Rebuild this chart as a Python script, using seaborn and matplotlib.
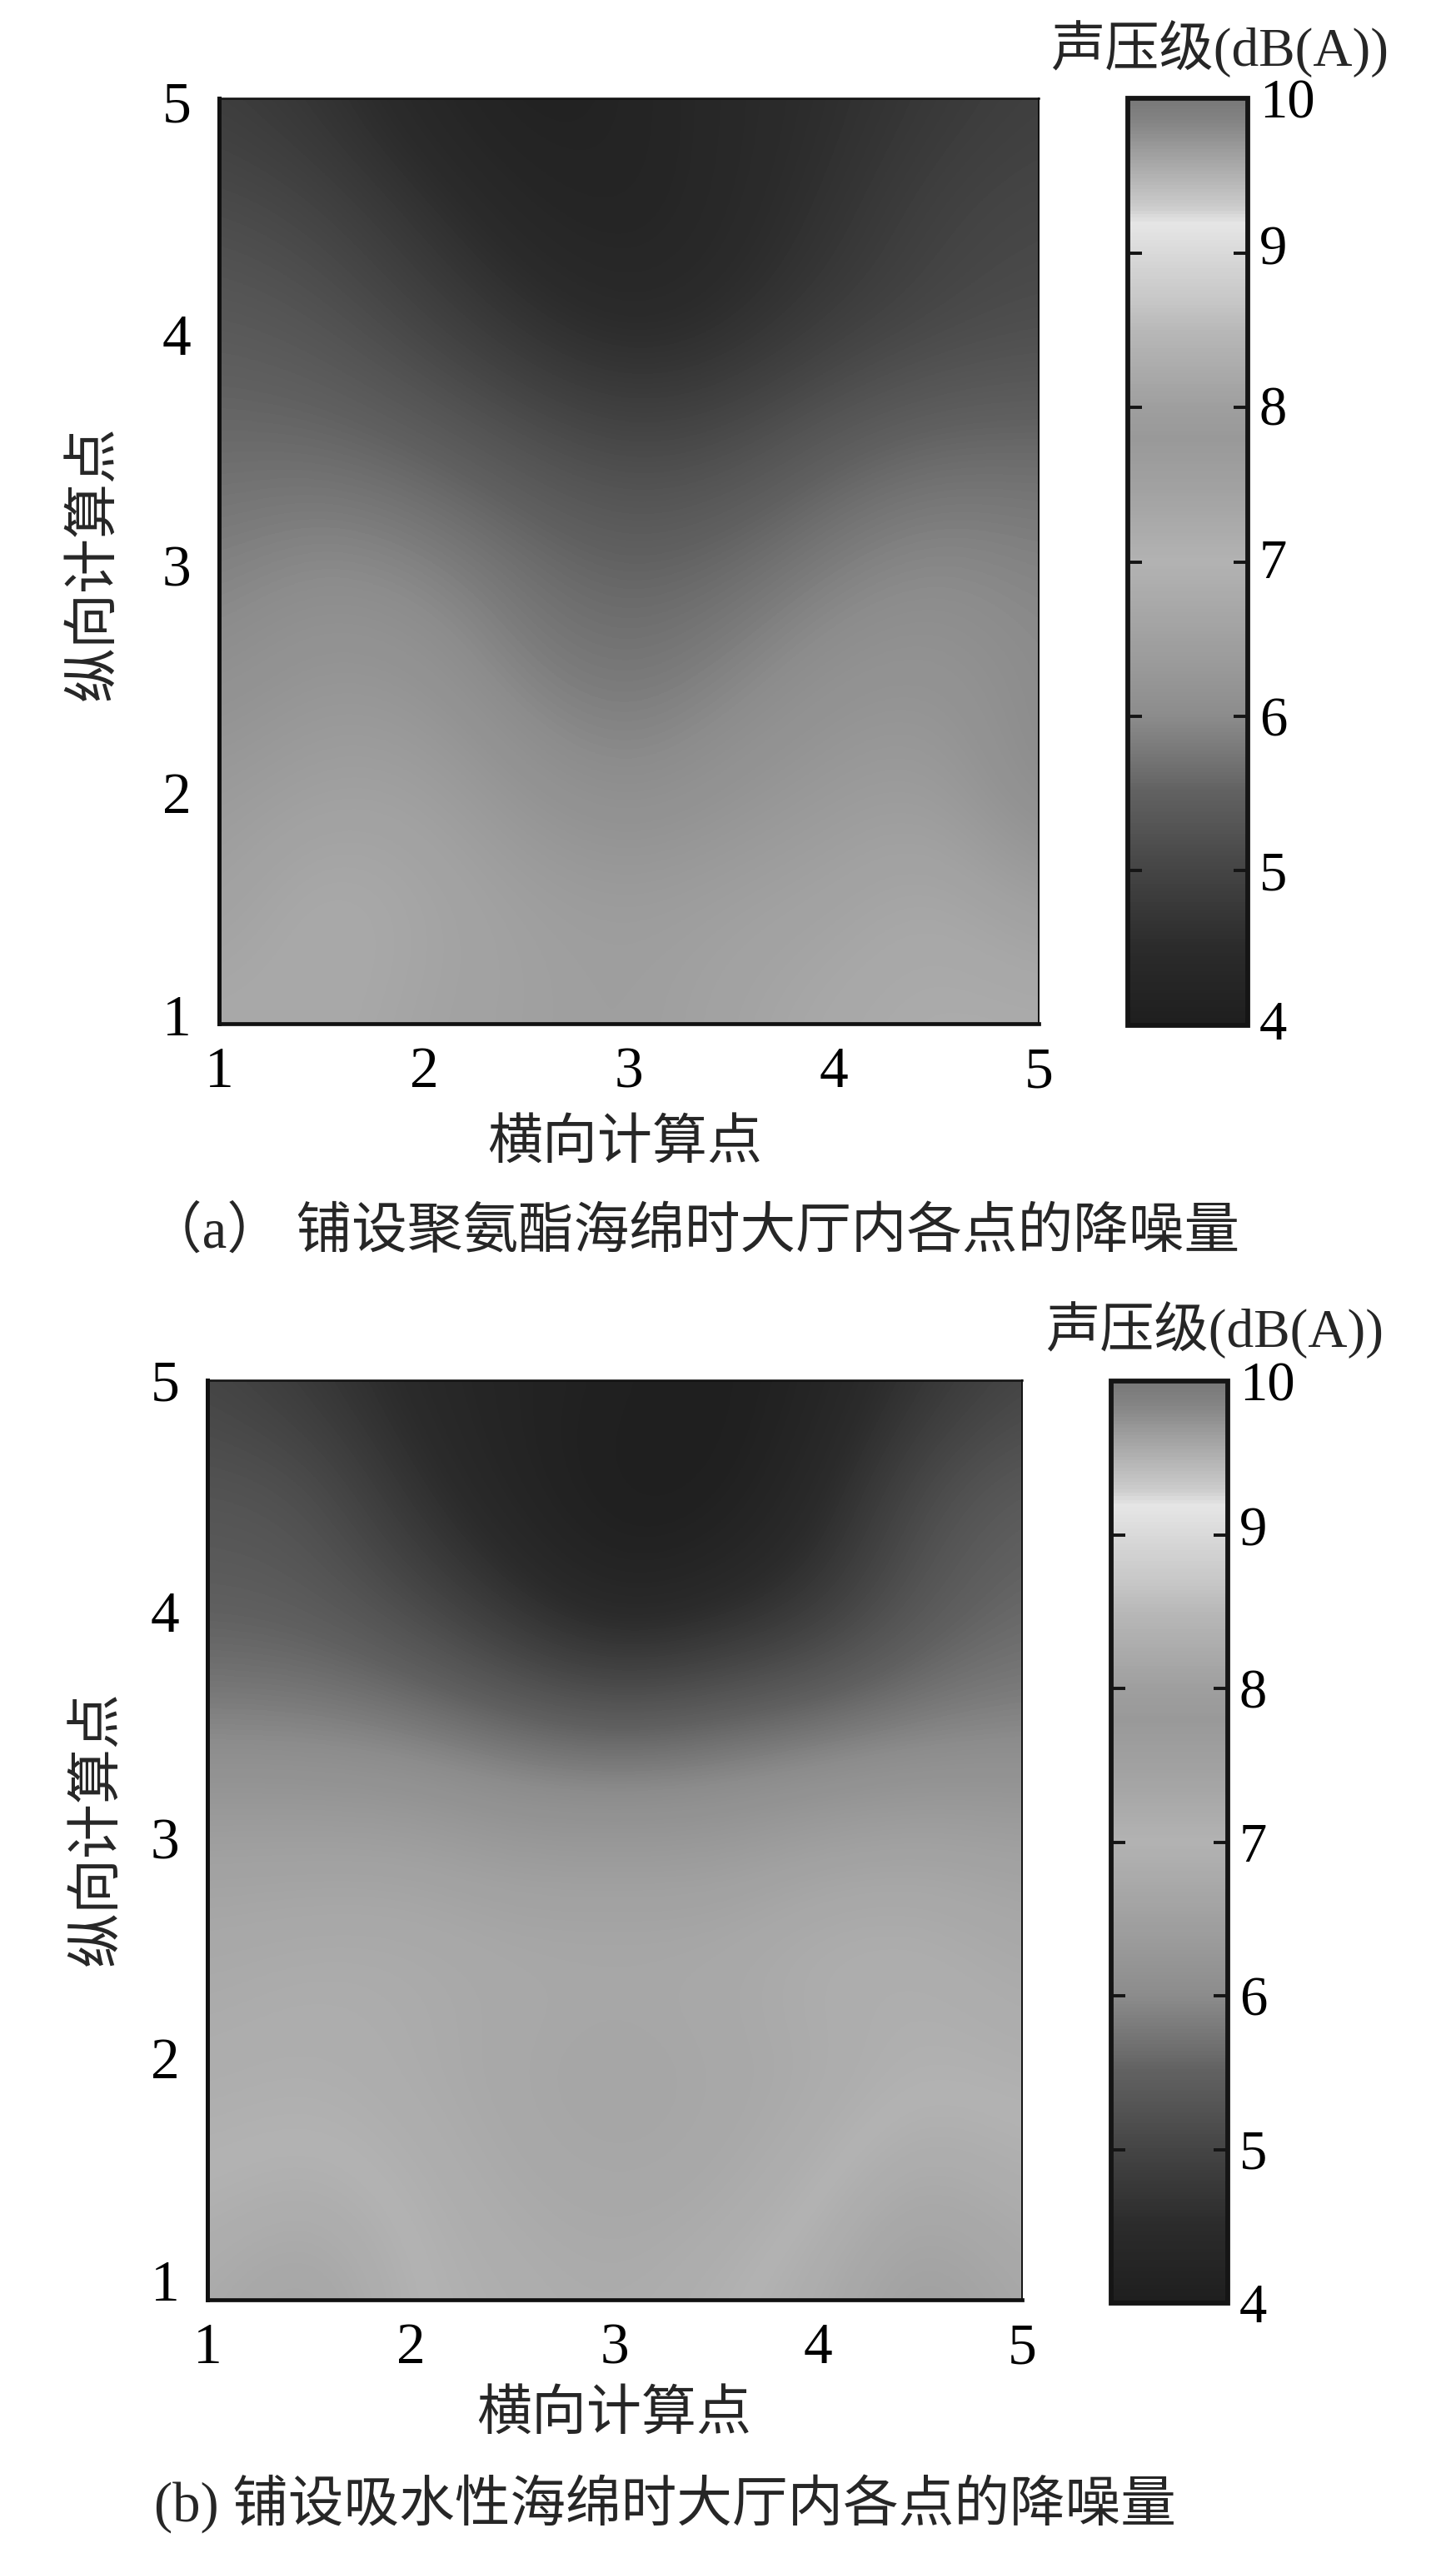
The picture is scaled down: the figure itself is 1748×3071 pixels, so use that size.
import numpy as np
import pandas as pd
import seaborn as sns
import matplotlib
matplotlib.use("Agg")
import matplotlib.pyplot as plt
from matplotlib.colors import LinearSegmentedColormap
from matplotlib.transforms import ScaledTranslation

# ---------- data ----------
x_points = [1, 1.5, 2, 2.5, 3, 3.5, 4, 4.5, 5]
y_points = [5, 4.5, 4, 3.5, 3, 2.5, 2, 1.5, 1]
tick_labels = ["1", "2", "3", "4", "5"]
cbar_ticks = [4, 5, 6, 7, 8, 9, 10]

noise_a = [
    [4.85, 4.65, 4.30, 4.10, 4.20, 4.40, 4.55, 4.75, 4.90],
    [5.15, 5.00, 4.65, 4.30, 4.20, 4.40, 4.65, 4.95, 5.05],
    [5.40, 5.30, 5.00, 4.65, 4.40, 4.55, 4.85, 5.05, 5.15],
    [5.62, 5.62, 5.50, 5.25, 5.05, 5.15, 5.45, 5.62, 5.62],
    [5.85, 6.00, 5.90, 5.68, 5.50, 5.62, 5.85, 6.00, 5.90],
    [6.07, 6.28, 6.20, 5.85, 5.74, 5.90, 6.14, 6.20, 6.00],
    [6.35, 6.50, 6.50, 6.20, 6.00, 6.20, 6.35, 6.43, 5.93],
    [6.50, 6.83, 6.67, 6.50, 6.43, 6.50, 6.58, 6.75, 6.50],
    [6.75, 6.75, 6.58, 6.50, 6.43, 6.58, 6.75, 6.83, 6.83],
]
noise_b = [
    [5.00, 4.75, 4.40, 4.20, 4.10, 4.00, 4.20, 4.65, 5.00],
    [5.30, 5.25, 4.65, 4.20, 4.00, 4.00, 4.40, 5.15, 5.45],
    [5.45, 5.40, 5.15, 4.65, 4.20, 4.40, 4.75, 5.35, 5.60],
    [5.90, 5.90, 5.80, 5.62, 5.50, 5.62, 5.74, 5.85, 5.90],
    [6.50, 6.50, 6.50, 6.35, 6.35, 6.35, 6.50, 6.58, 6.50],
    [6.75, 6.83, 6.83, 6.75, 6.75, 6.75, 6.92, 6.92, 6.75],
    [6.85, 6.90, 6.80, 6.68, 6.58, 6.68, 6.75, 6.95, 6.90],
    [7.00, 7.10, 6.95, 6.75, 6.68, 6.72, 6.95, 7.30, 7.10],
    [7.20, 7.50, 7.00, 6.90, 6.80, 6.95, 7.20, 7.60, 7.30],
]

# grey level of the colour bar at each dB value
cbar_levels = [4, 4.5, 5, 5.5, 6, 6.5, 7, 7.5, 7.8, 8, 8.2, 8.5, 8.7, 9, 9.2, 9.3, 9.5, 9.7, 9.85, 10]
cbar_greys = [.12, .17, .27, .38, .55, .63, .70, .63, .60, .62, .66, .72, .78, .85, .90, .80, .70, .60, .52, .47]

cap_a = "（a） 铺设聚氨酯海绵时大厅内各点的降噪量"
cap_b = "(b) 铺设吸水性海绵时大厅内各点的降噪量"
x_title = "横向计算点"
y_title = "纵向计算点"
cb_title = "声压级(dB(A))"

# ---------- theme ----------
W, H = 1748, 3071
sns.set_theme(style="white")
plt.rcParams["font.family"] = ["Liberation Serif", "Noto Sans CJK SC"]
plt.rcParams["axes.unicode_minus"] = False

pos = [(c - 4) / 6 for c in cbar_levels]
cmap = LinearSegmentedColormap.from_list(
    "bar", [(p, (g, g, g)) for p, g in zip(pos, cbar_greys)], N=256)

fig = plt.figure(figsize=(W / 100, H / 100), dpi=100, facecolor="white")


def add_axes(l, t, r, b):
    return fig.add_axes([l / W, 1 - b / H, (r - l) / W, (b - t) / H])


def panel(values, box, cbox, caption, cap_xy, xl_xy, yl_xy, cb_xy, ylab_shift, cblab_shift):
    ax = add_axes(*box)
    cax = add_axes(*cbox)
    df = pd.DataFrame(values, index=y_points, columns=x_points)
    sns.heatmap(df, ax=ax, cbar_ax=cax, cmap=cmap, vmin=4, vmax=10,
                xticklabels=False, yticklabels=False)
    n = len(x_points)
    ax.imshow(df.values, cmap=cmap, vmin=4, vmax=10, extent=(0, n, n, 0),
              interpolation="bicubic", aspect="auto", zorder=2)
    ax.set_xlim(0.5, n - 0.5)
    ax.set_ylim(n - 0.5, 0.5)
    ax.set_xlabel("")
    ax.set_ylabel("")
    xt = [x_points.index(v) + 0.5 for v in (1, 2, 3, 4, 5)]
    yt = [y_points.index(v) + 0.5 for v in (1, 2, 3, 4, 5)]
    ax.set_xticks(xt, tick_labels)
    ax.set_yticks(yt, tick_labels)
    ax.tick_params(axis="both", length=0, labelsize=50, colors="black")
    ax.tick_params(axis="x", pad=20)
    ax.tick_params(axis="y", pad=24)
    for lab, s in zip(ax.get_yticklabels(), ylab_shift):
        lab.set_transform(lab.get_transform() + ScaledTranslation(0, s / 100, fig.dpi_scale_trans))
    for name, lw in (("left", 3.6), ("bottom", 3.4), ("top", 1.8), ("right", 1.4)):
        ax.spines[name].set_visible(True)
        ax.spines[name].set_linewidth(lw)
        ax.spines[name].set_color("#111111")

    cb = ax.collections[0].colorbar
    cb.set_ticks(cbar_ticks)
    cb.outline.set_visible(True)
    cb.outline.set_linewidth(4.2)
    cb.outline.set_edgecolor("#151515")
    cax.set_axisbelow(False)
    cax.tick_params(axis="y", which="both", direction="in", left=True, right=True,
                    length=12, width=2.8, color="#151515", labelsize=48,
                    labelcolor="black", pad=10)
    for lab, s in zip(cax.get_yticklabels(), cblab_shift):
        lab.set_transform(lab.get_transform() + ScaledTranslation(0, s / 100, fig.dpi_scale_trans))
    fig.text(cb_xy[0] / W, 1 - cb_xy[1] / H, cb_title, fontsize=47, ha="center", va="center")
    fig.text(xl_xy[0] / W, 1 - xl_xy[1] / H, x_title, fontsize=47.5, ha="center", va="center")
    fig.text(yl_xy[0] / W, 1 - yl_xy[1] / H, y_title, fontsize=47.5, rotation=90, ha="center", va="center")
    fig.text(cap_xy[0] / W, 1 - cap_xy[1] / H, caption, fontsize=48, ha="center", va="center")


panel(noise_a, (263, 118, 1247, 1229), (1354, 118, 1498, 1231), cap_a,
      (832, 1480), (750, 1374), (114, 676), (1464, 59), [10, 0, -6, -6, -4],
      [6, 0, 0, 4, 2, 10, 0])
panel(noise_b, (249, 1657, 1227, 2761), (1334, 1658, 1474, 2765), cap_b,
      (798, 3006), (737, 2900), (118, 2195), (1458, 1597), [23, 14, 2, -2, 0],
      [0, 0, 0, 0, 0, 10, 0])

fig.savefig("out.png", dpi=100, facecolor="white")
